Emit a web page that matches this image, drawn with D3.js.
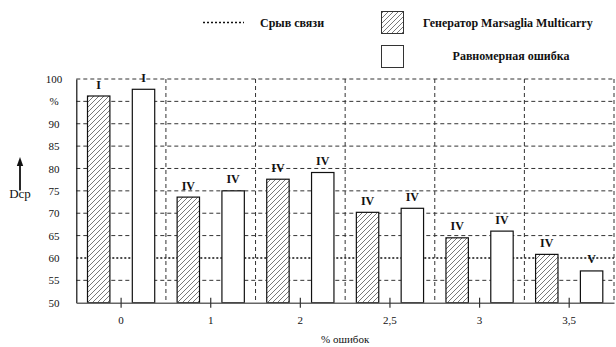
<!DOCTYPE html>
<html><head><meta charset="utf-8">
<script src="https://cdn.jsdelivr.net/npm/d3@7/dist/d3.min.js"></script>
<style>body{margin:0;background:#fff}svg{display:block}svg text{font-family:'Liberation Serif','Times New Roman',Times,serif !important;fill:#111}</style>
</head><body><svg id="c" width="616" height="347" font-family="Liberation Serif, serif"></svg>
<script>
const categories = ["0", "1", "2", "2,5", "3", "3,5"];
const seriesNames = ["Генератор Marsaglia Multicarry", "Равномерная ошибка"];
const marsaglia = [96.2, 73.6, 77.6, 70.2, 64.5, 60.8];
const uniform = [97.7, 75.0, 79.1, 71.1, 66.0, 57.1];
const marsagliaLabels = ["I", "IV", "IV", "IV", "IV", "IV"];
const uniformLabels = ["I", "IV", "IV", "IV", "IV", "V"];
const yTicks = [50, 55, 60, 65, 70, 75, 80, 85, 90, 95, 100];
const yTickLabels = ["50", "55", "60", "65", "70", "75", "80", "85", "90", "%", "100"];
const thresholdValue = 60;
const thresholdName = "Срыв связи";
const xTitle = "% ошибок";
const yTitle = "Dcp";

const FONT = "'Liberation Serif', 'Times New Roman', Times, serif";
const svg = d3.select("#c");
const L = 76.3, R = 614, T = 79, B = 302.7;
const x = d3.scaleBand().domain(categories).range([L, R]).padding(0);
const xi = d3.scaleBand().domain([0, 1]).range([0, x.bandwidth()]).paddingInner(0.5).paddingOuter(0.25);
const y = d3.scaleLinear().domain([50, 100]).range([B, T]);

const defs = svg.append("defs");
const pat = defs.append("pattern").attr("id", "hatch").attr("patternUnits", "userSpaceOnUse")
  .attr("width", 5).attr("height", 5);
pat.append("rect").attr("width", 5).attr("height", 5).attr("fill", "#fff");
pat.append("path").attr("d", "M-1,1 L1,-1 M0,5 L5,0 M4,6 L6,4")
  .attr("stroke", "#555").attr("stroke-width", 0.8);

// horizontal grid
const gridG = svg.append("g");
gridG.selectAll("line.h").data(yTicks.filter(v => v > 50)).join("line")
  .attr("x1", L).attr("x2", R).attr("y1", d => y(d)).attr("y2", d => y(d))
  .attr("stroke", d => d === thresholdValue ? "#111" : "#333")
  .attr("stroke-width", d => d === thresholdValue ? 1.6 : 1)
  .attr("stroke-dasharray", d => d === thresholdValue ? "2,2" : "4,3");
// vertical dividers
gridG.selectAll("line.v").data(categories).join("line")
  .attr("x1", d => x(d) + x.bandwidth()).attr("x2", d => x(d) + x.bandwidth())
  .attr("y1", T).attr("y2", B)
  .attr("stroke", "#333").attr("stroke-width", 1).attr("stroke-dasharray", "4,3");

// y axis
const yAxis = d3.axisLeft(y).tickValues(yTicks).tickSize(0)
  .tickFormat((d, i) => yTickLabels[i]);
const ya = svg.append("g").attr("transform", `translate(${L},0)`).call(yAxis).attr("font-family", FONT);
ya.select(".domain").attr("stroke", "#111").attr("stroke-width", 1.2);
ya.selectAll("text").attr("x", 54 - L).attr("text-anchor", "middle")
  .style("font-size", "11px").style("font-family", FONT);

// bars
const rows = categories.map((c, i) => ({ c, vals: [marsaglia[i], uniform[i]], labs: [marsagliaLabels[i], uniformLabels[i]] }));
const g = svg.append("g");
rows.forEach(r => {
  r.vals.forEach((v, k) => {
    g.append("rect")
      .attr("x", x(r.c) + xi(k)).attr("width", xi.bandwidth())
      .attr("y", y(v)).attr("height", B - y(v))
      .attr("fill", k === 0 ? "url(#hatch)" : "#fff")
      .attr("stroke", "#111").attr("stroke-width", 1.2);
    g.append("text")
      .attr("x", x(r.c) + xi(k) + xi.bandwidth() / 2)
      .attr("y", y(v) - 7.5)
      .attr("text-anchor", "middle")
      .style("font-family", FONT)
      .style("font-size", "12px").style("font-weight", "bold")
      .text(r.labs[k]);
  });
});

// x axis
const xAxis = d3.axisBottom(x).tickSize(0);
const xa = svg.append("g").attr("transform", `translate(0,${B})`).call(xAxis).attr("font-family", FONT);
xa.select(".domain").attr("stroke", "#666").attr("stroke-width", 1.6);
xa.selectAll("text").attr("y", 14).attr("dy", "0.71em").style("font-size", "11px")
  .style("font-family", FONT);
xa.selectAll(".tick").append("line").attr("y1", -5).attr("y2", 5)
  .attr("stroke", "#333").attr("stroke-width", 1.2);

// titles
svg.append("text").attr("x", (L + R) / 2).attr("y", 343).attr("text-anchor", "middle")
  .style("font-family", FONT).style("font-size", "11px").text(xTitle);
svg.append("text").attr("x", 20).attr("y", 197.5).attr("text-anchor", "middle")
  .style("font-family", FONT).style("font-size", "13px").text(yTitle);
svg.append("line").attr("x1", 20).attr("x2", 20).attr("y1", 164).attr("y2", 190.5)
  .attr("stroke", "#111").attr("stroke-width", 1.8);
svg.append("path").attr("d", "M20,157 L16.8,166 L23.2,166 Z").attr("fill", "#111");

// legend
const lg = svg.append("g");
lg.append("line").attr("x1", 203).attr("x2", 244).attr("y1", 22.5).attr("y2", 22.5)
  .attr("stroke", "#111").attr("stroke-width", 1.6).attr("stroke-dasharray", "2,2");
lg.append("text").attr("x", 260).attr("y", 26.5).style("font-family", FONT).style("font-size", "12px").style("font-weight", "bold")
  .text(thresholdName);
lg.append("rect").attr("x", 381.5).attr("y", 11.5).attr("width", 22).attr("height", 22)
  .attr("fill", "url(#hatch)").attr("stroke", "#333").attr("stroke-width", 1);
lg.append("text").attr("x", 423).attr("y", 26.5).style("font-family", FONT).style("font-size", "12px").style("font-weight", "bold")
  .text(seriesNames[0]);
lg.append("rect").attr("x", 381.5).attr("y", 45.5).attr("width", 22).attr("height", 22)
  .attr("fill", "#fff").attr("stroke", "#333").attr("stroke-width", 1);
lg.append("text").attr("x", 511).attr("y", 60).attr("text-anchor", "middle")
  .style("font-family", FONT).style("font-size", "12px").style("font-weight", "bold").text(seriesNames[1]);
</script></body></html>
